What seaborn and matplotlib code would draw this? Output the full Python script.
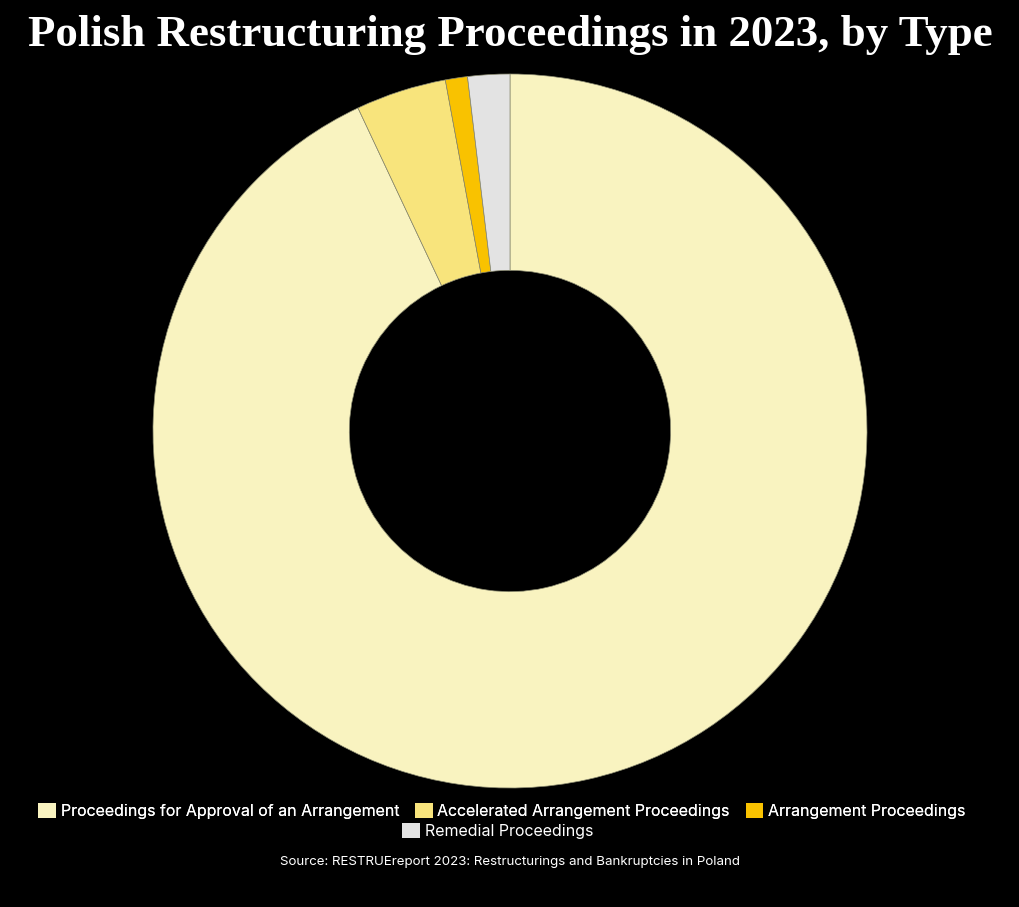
import matplotlib
matplotlib.use("Agg")
import matplotlib.pyplot as plt
from matplotlib.patches import Patch
import seaborn as sns

# data (share of proceedings, %)
categories = ["Proceedings for Approval of an Arrangement",
              "Accelerated Arrangement Proceedings",
              "Arrangement Proceedings",
              "Remedial Proceedings"]
values = [93.0, 4.1, 1.0, 1.9]
colors = ["#F9F3C0", "#F8E47C", "#F9C200", "#E3E3E3"]

sns.set_theme(style="dark")
plt.rcParams['font.family'] = ['Inter', 'DejaVu Sans']

fig = plt.figure(figsize=(10.2, 9.07), dpi=100, facecolor="black")
ax = fig.add_axes([0.5 - 714/1020/2, 1 - 788/907, 714/1020, 714/907])
ax.set_facecolor("black")

wedges, _ = ax.pie(values, colors=colors, startangle=90, counterclock=False,
                   radius=1.0,
                   wedgeprops=dict(width=0.55, edgecolor="#8a8a70", linewidth=0.5))
ax.set_aspect("equal")
ax.set_xlim(-1, 1)
ax.set_ylim(-1, 1)
ax.axis("off")

fig.text(0.5, 1 - 35/907, "Polish Restructuring Proceedings in 2023, by Type",
         ha="center", va="center", color="white", fontsize=32.3, fontweight="bold",
         family=["Liberation Serif", "DejaVu Serif"])

# legend: first three on one row, last one centred below
handles = [Patch(facecolor=c, edgecolor="none") for c in colors]
leg1 = fig.legend(handles[:3], categories[:3], loc="center", ncol=3,
                  bbox_to_anchor=(0.492, 1 - 811/907), frameon=False,
                  labelcolor="white", fontsize=11.5, handlelength=1.1,
                  handleheight=1.1, handletextpad=0.3, columnspacing=1.0)
leg2 = fig.legend(handles[3:], categories[3:], loc="center", ncol=1,
                  bbox_to_anchor=(0.488, 1 - 831/907), frameon=False,
                  labelcolor="white", fontsize=11.5, handlelength=1.1,
                  handleheight=1.1, handletextpad=0.3)
fig.add_artist(leg1)

fig.text(0.5, 1 - 862/907, "Source: RESTRUEreport 2023: Restructurings and Bankruptcies in Poland",
         ha="center", va="center", color="white", fontsize=9.6)

fig.savefig("out.png", dpi=100, facecolor="black")
